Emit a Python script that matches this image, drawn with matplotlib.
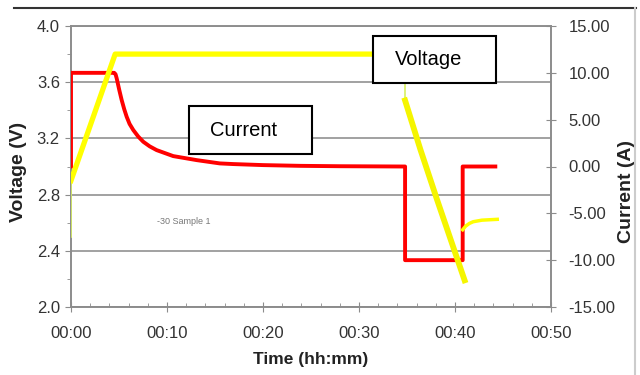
import matplotlib
matplotlib.use('Agg')
import matplotlib.pyplot as plt
from matplotlib.patches import Rectangle
from matplotlib.lines import Line2D
from matplotlib.ticker import MultipleLocator, FuncFormatter

# time in minutes, voltage in V, current in A
chargeTime = [0, 4.6, 34.8]
chargeVoltage = [2.9, 3.8, 3.8]
startTime = [0, 0]
startVoltage = [2.5, 2.9]
dropTime = [34.8, 34.8]
dropVoltage = [3.62, 3.47]
dischargeTime = [34.8, 36.4, 38.1, 39.8, 41.0]
dischargeVoltage = [3.47, 3.12, 2.77, 2.43, 2.19]
restTime = [40.8, 41.1, 41.5, 41.9, 42.8, 44.4]
restVoltage = [2.55, 2.575, 2.595, 2.607, 2.618, 2.624]

currentTime = [0, 0, 4.5, 4.64, 4.76, 5.03, 5.28, 5.55, 5.8, 6.1, 6.49, 7.0, 7.53, 8.2,
               8.92, 10.65, 13.1, 15.5, 16.9, 20.0, 23.9, 28.0, 34.4, 34.8, 34.8, 40.8,
               40.8, 44.2]
currentValue = [0, 10, 10, 9.85, 9.41, 8.16, 7.09, 6.1, 5.31, 4.55, 3.89, 3.2, 2.64, 2.15,
                1.75, 1.11, 0.68, 0.33, 0.26, 0.15, 0.07, 0.03, 0, 0, -10, -10, 0, 0]

sampleText = '-30 Sample 1'

narrow = ['Liberation Sans Narrow', 'DejaVu Sans Condensed', 'Liberation Sans']
regular = ['Liberation Sans', 'DejaVu Sans']
gridGray = '#9a9a9a'
axisGray = '#8c8c8c'


def main():
    fig = plt.figure(figsize=(6.4, 3.75), dpi=100)
    ax = fig.add_axes([71 / 640, 1 - 307 / 375, 480 / 640, 281 / 375])
    ax2 = ax.twinx()

    ax.set_xlim(0, 50)
    ax.set_ylim(2.0, 4.0)
    ax2.set_ylim(-15, 15)

    ax.yaxis.set_major_locator(MultipleLocator(0.4))
    ax.yaxis.set_minor_locator(MultipleLocator(0.2))
    ax.xaxis.set_major_locator(MultipleLocator(10))
    ax.xaxis.set_minor_locator(MultipleLocator(2))
    ax2.yaxis.set_major_locator(MultipleLocator(5))
    ax.yaxis.set_major_formatter(FuncFormatter(lambda v, p: '%.1f' % v))
    ax.xaxis.set_major_formatter(FuncFormatter(lambda v, p: '00:%02d' % int(round(v))))
    ax2.yaxis.set_major_formatter(FuncFormatter(lambda v, p: '%.2f' % v))

    ax.grid(axis='y', which='major', color=gridGray, linewidth=1.3)
    ax.set_axisbelow(True)

    for a in (ax, ax2):
        for s in a.spines.values():
            s.set_color(axisGray)
            s.set_linewidth(1.2)
    ax.spines['top'].set_color(gridGray)

    ax.tick_params(axis='y', which='major', direction='out', length=4, color=axisGray, pad=4)
    ax.tick_params(axis='y', which='minor', direction='out', length=3, color=axisGray)
    ax.tick_params(axis='x', which='major', direction='inout', length=7, color=axisGray, pad=10)
    ax.tick_params(axis='x', which='minor', direction='in', length=3, color=axisGray)
    ax2.tick_params(axis='y', which='major', direction='inout', length=7, color=axisGray, pad=9)

    for lab in ax.get_xticklabels() + ax.get_yticklabels() + ax2.get_yticklabels():
        lab.set_fontfamily(narrow)
        lab.set_fontsize(12)
        lab.set_color('#333333')

    ax.set_xlabel('Time (hh:mm)', family=narrow, fontsize=12.5, fontweight='bold',
                  color='#222222')
    ax.xaxis.set_label_coords(0.5, -0.16)
    ax.set_ylabel('Voltage (V)', family=regular, fontsize=14, fontweight='bold',
                  color='#222222')
    ax.yaxis.set_label_coords(-0.092, 0.48)
    ax2.set_ylabel('Current (A)', family=regular, fontsize=14, fontweight='bold',
                   color='#222222', rotation=90)
    ax2.yaxis.set_label_coords(1.14, 0.411)

    # current (red) below voltage (yellow)
    ax2.plot(currentTime, currentValue, color='#ff0000', linewidth=2.8, zorder=3,
             solid_joinstyle='round')

    vt = ax.transData
    ax2.plot(startTime, startVoltage, color='#d8f060', linewidth=1.2, transform=vt, zorder=4)
    ax2.plot(dropTime, dropVoltage, color='#d8f060', linewidth=1.2, transform=vt, zorder=4)
    ax2.plot(chargeTime, chargeVoltage, color='#ffff00', linewidth=3.8, transform=vt,
             zorder=4, solid_joinstyle='round')
    ax2.plot(dischargeTime, dischargeVoltage, color='#f5f500', linewidth=4.2, transform=vt,
             zorder=4)
    ax2.plot(restTime, restVoltage, color='#ffff00', linewidth=2.5, transform=vt, zorder=4)
    ax2.set_ylim(-15, 15)

    ax.text(0.18, 0.295, sampleText, transform=ax.transAxes, family=narrow, fontsize=6.5,
            color='#777777')

    # label boxes
    for x0, y0, w, h, txt, tx in [(189, 106, 123, 48, 'Current', 210),
                                  (373, 36, 123, 47, 'Voltage', 395)]:
        fig.add_artist(Rectangle((x0 / 640, 1 - (y0 + h) / 375), w / 640, h / 375,
                                 transform=fig.transFigure, facecolor='white',
                                 edgecolor='black', linewidth=1.5, zorder=5))
        fig.text(tx / 640, 1 - (y0 + h / 2) / 375, txt, family=regular, fontsize=14.5,
                 va='center', ha='left', zorder=6)

    # picture frame lines
    fig.add_artist(Line2D([14 / 640, 636 / 640], [1 - 8 / 375, 1 - 8 / 375],
                          transform=fig.transFigure, color='#333333', linewidth=1.5))
    fig.add_artist(Line2D([635 / 640, 635 / 640], [0, 1 - 8 / 375],
                          transform=fig.transFigure, color='#cccccc', linewidth=1.5))

    fig.savefig('out.png', dpi=100)


if __name__ == '__main__':
    main()
